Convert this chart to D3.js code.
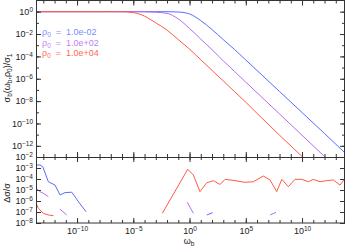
<!DOCTYPE html>
<meta charset="utf-8">
<style>
body { margin: 0; background: #fff; }
text { font-family: "Liberation Sans", Arial, sans-serif; fill: #222; }
.axis line { stroke: #333; }
.axis path { display: none; }
</style>
<body>
<div id="chart"></div>
<script src="https://d3js.org/d3.v7.min.js"></script>
<script>

// log10(omega_b) grid for the upper panel
var omegaTop = [-13.65, -8, -7, -6, -5, -4, -3, -2, -1, 0, 1, 2, 3, 4, 5, 6, 8, 10, 12, 13.82];
// log10(sigma_b / sigma_1) for each rho_0
var sigmaBlue   = [0, 0, 0, 0, 0, 0, 0, 0, -0.03, -0.2, -0.8, -1.6, -2.5, -3.38, -4.32, -5.26, -7.14, -9.02, -10.9, -12.63];
var sigmaPurple = [0, 0, 0, 0, 0, -0.01, -0.05, -0.15, -0.65, -1.5, -2.45, -3.4, -4.4, -5.35, -6.3, -7.25, -9.15, -11.05, -12.96, -14.7];
var sigmaRed    = [0, 0, 0, 0, -0.08, -0.4, -1.0, -1.65, -2.5, -3.35, -4.3, -5.25, -6.2, -7.15, -8.1, -9.1, -11.05, -12.95, -14.9, -16.7];

// lower panel: log10(omega_b) and log10(delta sigma / sigma), null = gap
var omegaResBlue = [-13.65, -13.29, -13.05, -12.55, -11.96, -11.51, -11.07, -10.47, -9.88, -9.2, null, 1.53, 2.06];
var resBlue      = [-2.73, -2.73, -2.88, -4.25, -4.55, -5.45, -5.24, -5.2, -6.06, -6.97, null, -7.27, -7.06];
var omegaResPurple = [-13.65, -13.29, -13.0, -12.55, null, -11.51, -10.92, null, -0.2, 0.34, null, 7.16, 7.69];
var resPurple      = [-4.85, -5.15, -5.3, -5.6, null, -6.75, -7.27, null, -6.12, -7.12, null, -7.27, -7.03];
var omegaResRed = [-13.65, -13.44, -13.0, -12.55, -12.1, null, -2.42, -0.16, 0.34, 0.93, 1.53, 2.12, 2.71, 3.16, 4.04, 4.93, 5.67, 6.56, 7.16, 7.75, 8.2, 8.78, 9.38, 9.98, 10.57, 11.0, 11.6, 12.2, 12.78, 13.38, 13.82];
var resRed      = [-6.2, -6.66, -7.12, -7.27, -7.33, null, -7.12, -3.12, -3.64, -5.15, -4.34, -4.15, -4.5, -4.03, -4.15, -4.3, -4.25, -3.73, -4.09, -5.15, -4.03, -4.7, -4.03, -4.03, -4.25, -4.03, -4.25, -4.15, -4.09, -4.55, -3.94];

var rhoLabels = ["1.0e-02", "1.0e+02", "1.0e+04"];
var xLabelExp = [-10, -5, 0, 5, 10];
var yTopLabelExp = [0, -2, -4, -6, -8, -10, -12];
var yBotLabelExp = [-2, -3, -4, -5, -6, -7, -8];

var lineColors = ["#5a6bff", "#b56cf0", "#ff5a45"];
var textColors = ["#7a8cff", "#bf7ff2", "#ff6a55"];

var W = 346, H = 247;
var left = 36, right = 345, topY = 0.5, mid = 157, bottom = 223;

var svg = d3.select("#chart").append("svg")
    .attr("width", W).attr("height", H);

var x = d3.scaleLog().domain([Math.pow(10, -13.65), Math.pow(10, 13.82)]).range([left, right]);
var yTop = d3.scaleLog().domain([1e-13, 10]).range([mid, topY]);
var yBot = d3.scaleLog().domain([1e-8, 1e-2]).range([bottom, mid]);

function pow(e) { return Math.pow(10, e); }
function range(a, b) { var r = []; for (var i = a; i <= b; i++) r.push(pow(i)); return r; }

function supLabel(sel) {
  sel.each(function(d) {
    var e = Math.round(Math.log10(d));
    var t = d3.select(this).text(null);
    t.append("tspan").text("10");
    t.append("tspan").attr("dy", "-0.45em").attr("font-size", "6.5px")
      .text(e < 0 ? "\u2212" + (-e) : String(e));
  });
}

// clip paths
var defs = svg.append("defs");
defs.append("clipPath").attr("id", "clipTop").append("rect")
    .attr("x", left).attr("y", topY).attr("width", right - left).attr("height", mid - topY);
defs.append("clipPath").attr("id", "clipBot").append("rect")
    .attr("x", left).attr("y", mid).attr("width", right - left).attr("height", bottom - mid);

// ---- upper panel curves
var lineTop = d3.line()
    .x(function(d) { return x(pow(d[0])); })
    .y(function(d) { return yTop(pow(d[1])); })
    .curve(d3.curveMonotoneX);

[sigmaBlue, sigmaPurple, sigmaRed].forEach(function(s, i) {
  svg.append("path")
    .attr("clip-path", "url(#clipTop)")
    .attr("d", lineTop(d3.zip(omegaTop, s)))
    .attr("fill", "none")
    .attr("stroke", lineColors[i])
    .attr("stroke-width", 1);
});

// ---- lower panel residuals
var lineBot = d3.line()
    .defined(function(d) { return d[0] != null; })
    .x(function(d) { return x(pow(d[0])); })
    .y(function(d) { return yBot(pow(d[1])); });

[[omegaResBlue, resBlue], [omegaResPurple, resPurple], [omegaResRed, resRed]].forEach(function(s, i) {
  svg.append("path")
    .attr("clip-path", "url(#clipBot)")
    .attr("d", lineBot(d3.zip(s[0], s[1])))
    .attr("fill", "none")
    .attr("stroke", lineColors[i])
    .attr("stroke-width", 1);
});

// ---- axes (ticks inward on every side)
function axisG(axis, tx, ty) {
  return svg.append("g").attr("class", "axis")
    .attr("transform", "translate(" + tx + "," + ty + ")")
    .call(axis);
}
var minorX = range(-13, 13);
var majorX = xLabelExp.map(pow);

[topY, mid].forEach(function(yy) {
  axisG(d3.axisBottom(x).tickValues(minorX).tickSize(3).tickFormat(""), 0, yy);
  axisG(d3.axisBottom(x).tickValues(majorX).tickSize(5).tickFormat(""), 0, yy);
});
[mid, bottom].forEach(function(yy) {
  axisG(d3.axisTop(x).tickValues(minorX).tickSize(3).tickFormat(""), 0, yy);
  axisG(d3.axisTop(x).tickValues(majorX).tickSize(5).tickFormat(""), 0, yy);
});
var xl = axisG(d3.axisBottom(x).tickValues(majorX).tickSize(0).tickPadding(4.5), 0, bottom);
xl.selectAll("text").attr("font-size", "9px").call(supLabel);

// upper y
var minorYT = range(-12, 0);
axisG(d3.axisRight(yTop).tickValues(minorYT).tickSize(3).tickFormat(""), left, 0);
axisG(d3.axisLeft(yTop).tickValues(minorYT).tickSize(3).tickFormat(""), right, 0);
axisG(d3.axisRight(yTop).tickValues(yTopLabelExp.map(pow)).tickSize(5).tickFormat(""), left, 0);
axisG(d3.axisLeft(yTop).tickValues(yTopLabelExp.map(pow)).tickSize(5).tickFormat(""), right, 0);
var ylT = axisG(d3.axisLeft(yTop).tickValues(yTopLabelExp.map(pow)).tickSize(0).tickPadding(3), left, 0);
ylT.selectAll("text").attr("font-size", "9px").call(supLabel);

// lower y
var botTicks = yBotLabelExp.map(pow);
axisG(d3.axisRight(yBot).tickValues(botTicks).tickSize(5).tickFormat(""), left, 0);
axisG(d3.axisLeft(yBot).tickValues(botTicks).tickSize(5).tickFormat(""), right, 0);
var ylB = axisG(d3.axisLeft(yBot).tickValues(botTicks).tickSize(0).tickPadding(3), left, 0);
ylB.selectAll("text").attr("font-size", "9px").call(supLabel);

// frames
svg.append("rect").attr("x", left + 0.5).attr("y", topY).attr("width", right - left - 1).attr("height", bottom - topY)
    .attr("fill", "none").attr("stroke", "#333");
svg.append("line").attr("x1", left).attr("x2", right).attr("y1", mid + 0.5).attr("y2", mid + 0.5)
    .attr("stroke", "#333");

// legend
rhoLabels.forEach(function(lab, i) {
  var t = svg.append("text").attr("x", 42).attr("y", 35 + i * 10.7)
      .attr("font-size", "9px").style("fill", textColors[i]);
  t.append("tspan").text("\u03c1");
  t.append("tspan").attr("dy", "2px").attr("font-size", "6.5px").text("0");
  t.append("tspan").attr("dy", "-2px").attr("xml:space", "preserve").text("  =  " + lab);
});

// axis titles
var tTop = svg.append("text").attr("transform", "translate(10,78) rotate(-90)")
    .attr("text-anchor", "middle").attr("font-size", "9px");
tTop.append("tspan").text("\u03c3");
tTop.append("tspan").attr("dy", "2px").attr("font-size", "6.5px").text("b");
tTop.append("tspan").attr("dy", "-2px").text("(\u03c9");
tTop.append("tspan").attr("dy", "2px").attr("font-size", "6.5px").text("b");
tTop.append("tspan").attr("dy", "-2px").text(",\u03c1");
tTop.append("tspan").attr("dy", "2px").attr("font-size", "6.5px").text("0");
tTop.append("tspan").attr("dy", "-2px").text(")/\u03c3");
tTop.append("tspan").attr("dy", "2px").attr("font-size", "6.5px").text("1");

svg.append("text").attr("transform", "translate(10,193) rotate(-90)")
    .attr("text-anchor", "middle").attr("font-size", "9px").text("\u0394\u03c3/\u03c3");

var tX = svg.append("text").attr("x", 189).attr("y", 243.5)
    .attr("text-anchor", "middle").attr("font-size", "9px");
tX.append("tspan").text("\u03c9");
tX.append("tspan").attr("dy", "2px").attr("font-size", "6.5px").text("b");

</script>
</body>
